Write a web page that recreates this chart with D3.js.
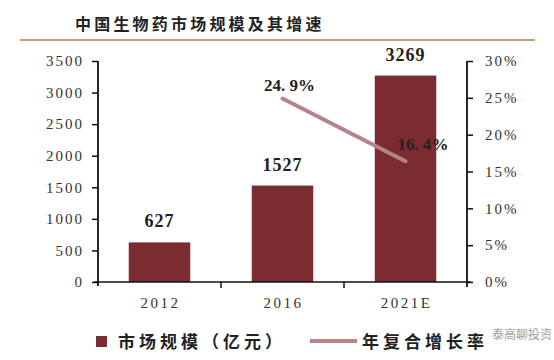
<!DOCTYPE html>
<html>
<head>
<meta charset="utf-8">
<script src="https://cdn.jsdelivr.net/npm/d3@7"></script>
<style>
  body { margin: 0; background: #fff; }
  svg { display: block; }
</style>
</head>
<body>
<script>
// chart data
const years = ["2012", "2016", "2021E"];
const marketSize = [627, 1527, 3269];
const growthYears = ["2016", "2021E"];
const growthRate = [0.249, 0.164];
const growthLabels = ["24. 9%", "16. 4%"];
const leftTicks = [0, 500, 1000, 1500, 2000, 2500, 3000, 3500];
const rightTicks = [0, 0.05, 0.10, 0.15, 0.20, 0.25, 0.30];

window.onload = function() {
  const w = 554;
  const h = 360;
  const left = 98, right = 467, top = 61, bottom = 282;
  const serif = "'Liberation Serif', 'DejaVu Serif', serif";
  const cjk = "'Noto Sans CJK SC', sans-serif";

  let svg = d3.select("body").append("svg")
    .attr("width", w)
    .attr("height", h);

  // title and rule
  svg.append("text")
    .attr("x", 75).attr("y", 30)
    .style("font-family", cjk)
    .style("font-size", "16px")
    .style("font-weight", "bold")
    .style("letter-spacing", "3.2px")
    .style("fill", "#222")
    .text("中国生物药市场规模及其增速");
  svg.append("line")
    .attr("x1", 20).attr("x2", 535)
    .attr("y1", 40).attr("y2", 40)
    .attr("stroke", "#c4a27e")
    .attr("stroke-width", 2);

  // scales
  let x = d3.scaleBand()
    .domain(years)
    .range([left, right])
    .paddingInner(0.5)
    .paddingOuter(0.25);
  let yL = d3.scaleLinear().domain([0, 3500]).range([bottom, top]);
  let yR = d3.scaleLinear().domain([0, 0.3]).range([bottom, top]);

  // bars
  svg.selectAll("rect.bar")
    .data(marketSize)
    .enter().append("rect")
    .attr("class", "bar")
    .attr("x", function(d, i) { return x(years[i]); })
    .attr("y", function(d) { return yL(d); })
    .attr("width", x.bandwidth())
    .attr("height", function(d) { return bottom - yL(d); })
    .attr("fill", "#7b2c30");

  svg.selectAll("text.val")
    .data(marketSize)
    .enter().append("text")
    .attr("class", "val")
    .attr("x", function(d, i) { return x(years[i]) + x.bandwidth() / 2; })
    .attr("y", function(d) { return yL(d) - 15; })
    .attr("text-anchor", "middle")
    .style("font-family", serif)
    .style("font-size", "18px")
    .style("font-weight", "bold")
    .style("letter-spacing", "1px")
    .style("fill", "#222")
    .text(function(d) { return d; });

  // growth line
  let line = d3.line()
    .x(function(d, i) { return x(growthYears[i]) + x.bandwidth() / 2; })
    .y(function(d) { return yR(d); });
  svg.append("path")
    .datum(growthRate)
    .attr("d", line)
    .attr("fill", "none")
    .attr("stroke", "#b48486")
    .attr("stroke-width", 4)
    .attr("stroke-linecap", "round");

  svg.append("text")
    .attr("x", x(growthYears[0]) + x.bandwidth() / 2 + 7)
    .attr("y", yR(growthRate[0]) - 8)
    .attr("text-anchor", "middle")
    .style("font-family", serif)
    .style("font-size", "17px")
    .style("font-weight", "bold")
    .style("fill", "#222")
    .text(growthLabels[0]);
  svg.append("text")
    .attr("x", x(growthYears[1]) + x.bandwidth() / 2 - 8)
    .attr("y", yR(growthRate[1]) - 11)
    .style("font-family", serif)
    .style("font-size", "17px")
    .style("font-weight", "bold")
    .style("fill", "#222")
    .text(growthLabels[1]);

  // axes
  let yAxisL = d3.axisLeft(yL).tickValues(leftTicks).tickSize(6).tickSizeOuter(0).tickPadding(10)
    .tickFormat(function(d) { return String(d); });
  let yAxisR = d3.axisRight(yR).tickValues(rightTicks).tickSize(6).tickSizeOuter(0).tickPadding(12)
    .tickFormat(function(d) { return Math.round(d * 100) + "%"; });

  let gl = svg.append("g")
    .attr("transform", "translate(" + left + ",0)")
    .call(yAxisL);
  let gr = svg.append("g")
    .attr("transform", "translate(" + right + ",0)")
    .call(yAxisR);
  [gl, gr].forEach(function(g) {
    g.select(".domain").remove();
    g.selectAll("line").attr("stroke", "#111").attr("stroke-width", 1.5);
    g.selectAll("text")
      .style("font-family", serif)
      .style("font-size", "15px")
      .style("letter-spacing", "2px")
      .style("fill", "#333");
  });
  gl.selectAll("text").attr("dx", "2px");

  // axis lines
  svg.append("line")
    .attr("x1", left).attr("x2", left)
    .attr("y1", top).attr("y2", bottom + 4)
    .attr("stroke", "#111").attr("stroke-width", 1.8);
  svg.append("line")
    .attr("x1", right).attr("x2", right)
    .attr("y1", top).attr("y2", bottom + 5)
    .attr("stroke", "#111").attr("stroke-width", 1.8);
  svg.append("line")
    .attr("x1", left - 4).attr("x2", right + 4)
    .attr("y1", bottom).attr("y2", bottom)
    .attr("stroke", "#111").attr("stroke-width", 1.5);

  // category boundary ticks
  let gap = (x.step() - x.bandwidth()) / 2;
  svg.selectAll("line.xtick")
    .data(years.slice(1))
    .enter().append("line")
    .attr("class", "xtick")
    .attr("x1", function(d) { return x(d) - gap; })
    .attr("x2", function(d) { return x(d) - gap; })
    .attr("y1", bottom).attr("y2", bottom + 6)
    .attr("stroke", "#111").attr("stroke-width", 1.5);

  svg.selectAll("text.xlab")
    .data(years)
    .enter().append("text")
    .attr("class", "xlab")
    .attr("x", function(d) { return x(d) + x.bandwidth() / 2 + 1; })
    .attr("y", 308)
    .attr("text-anchor", "middle")
    .style("font-family", serif)
    .style("font-size", "15px")
    .style("letter-spacing", "2.5px")
    .style("fill", "#333")
    .text(function(d) { return d; });

  // legend
  svg.append("rect")
    .attr("x", 96).attr("y", 336)
    .attr("width", 11).attr("height", 11)
    .attr("fill", "#7b2c30");
  svg.append("text")
    .attr("x", 118).attr("y", 348)
    .style("font-family", cjk)
    .style("font-size", "17px")
    .style("font-weight", "bold")
    .style("letter-spacing", "4px")
    .style("fill", "#222")
    .text("市场规模（亿元）");
  svg.append("line")
    .attr("x1", 310).attr("x2", 357)
    .attr("y1", 341).attr("y2", 341)
    .attr("stroke", "#b48486")
    .attr("stroke-width", 4);
  svg.append("text")
    .attr("x", 362).attr("y", 348)
    .style("font-family", cjk)
    .style("font-size", "17px")
    .style("font-weight", "bold")
    .style("letter-spacing", "4px")
    .style("fill", "#222")
    .text("年复合增长率");

  // watermark
  svg.append("text")
    .attr("x", 492).attr("y", 339)
    .style("font-family", cjk)
    .style("font-size", "12px")
    .style("fill", "#888")
    .style("opacity", 0.8)
    .text("泰高聊投资");
}
</script>
</body>
</html>
